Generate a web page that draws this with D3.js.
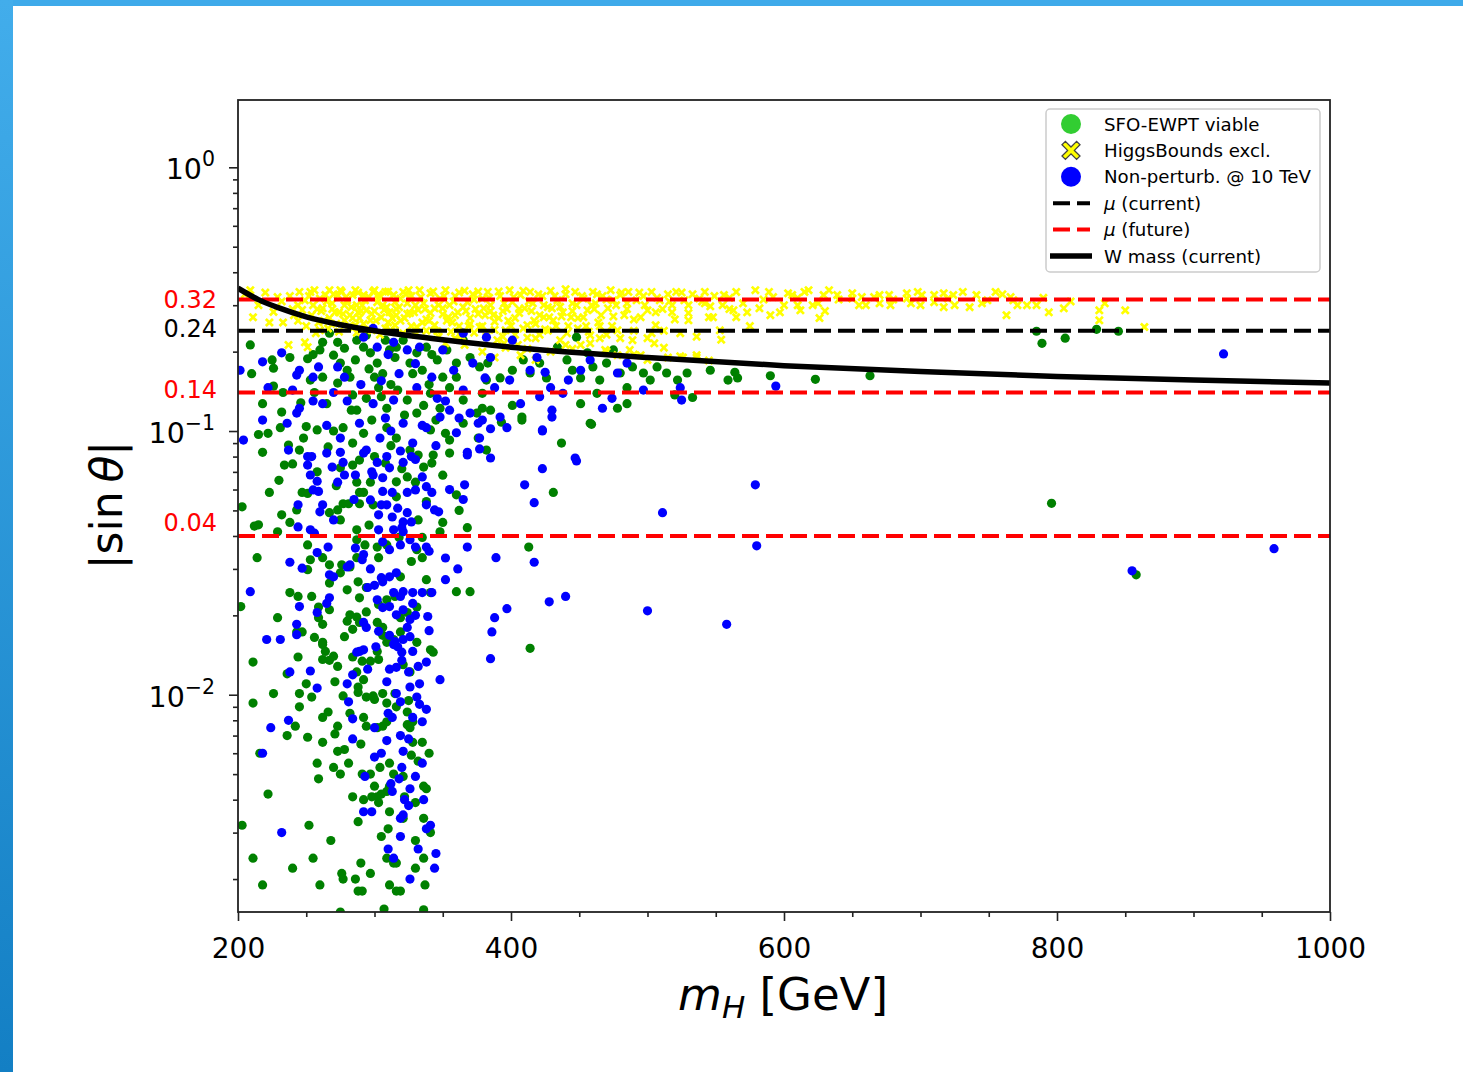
<!DOCTYPE html>
<html><head><meta charset="utf-8">
<script src="https://cdn.jsdelivr.net/npm/d3@7"></script>
<style>body{margin:0;background:#fff;overflow:hidden} svg{display:block}</style>
</head><body>
<svg id="chart" width="1463" height="1072"></svg>
<script>
// ---------- data (m_H [GeV], |sin theta|) ----------
const greenPts = [
[209,.212],[225,.186],[226,.173],[238,.190],[251,.188],[260,.203],[262,.217],[267,.235],[270,.194],[273,.217],[278,.206],[275,.181],[280,.170],[286,.186],[287,.221],[292,.208],[294,.231],[297,.198],[302,.181],[306,.165],[308,.221],[311,.203],[316,.208],[321,.221],[326,.181],[331,.198],[338,.208],[346,.186],[353,.203],[360,.181],[365,.221],[370,.190],[377,.175],[382,.156],
[218,.127],[233,.140],[253,.156],[256,.140],[265,.127],[273,.152],[284,.137],[287,.120],[294,.133],[303,.146],[309,.122],[317,.143],[324,.131],[331,.117],[341,.139],[348,.122],[355,.146],[365,.131],[375,.117],[379,.139],
[215,.097],[231,.103],[237,.0885],[248,.094],[258,.101],[266,.087],[277,.103],[284,.090],[292,.098],[309,.103],[316,.094],[326,.0847],[341,.101],[355,.0924],[365,.107],[376,.094],[218,.083],[245,.0847],
[383,.181],[392,.159],[401,.170],[409,.186],[414,.166],[421,.181],[426,.159],[434,.208],[441,.186],[445,.170],[448,.227],[451,.159],[456,.198],[460,.175],[465,.156],[470,.181],[475,.203],[480,.166],[485,.146],[489,.175],[497,.166],[502,.156],[507,.175],[514,.166],[522,.156],[529,.166],[533,.134],[546,.170],[559,.156],[566,.159],
[451,.127],[463,.139],[478,.122],[485,.127],[520,.137],[379,.122],[385,.120],[408,.113],[401,.125],[458,.107],[437,.090],[382,.0847],
[590,.162],[623,.157],[663,.162],[564,.167],[785,.239],[789,.215],[806,.225],[829,.243],[845,.239],
[393,.108],[408,.110],[459,.106],[431,.0585],[796,.0532],[413,.0363],[414,.0150],[858,.0285],
[234,.0743],[223,.0585],[247,.0585],[203,.0516],[232,.0481],[243,.0502],[238,.045],[212,.0436],[215,.0441],[229,.0415],[214,.0331],[251,.037],[253,.0325],[251,.0298],[262,.0331],[267,.0311],[276,.0311],
[267,.049],[273,.0502],[277,.053],[281,.053],[275,.046],[287,.0422],[289,.0585],[287,.064],[292,.0585],[289,.053],[275,.0725],[284,.0743],[289,.0776],[297,.064],[299,.0525],[287,.0387],[293,.037],[302,.0363],[303,.0331],[309,.037],[287,.0331],
[267,.0265],[275,.029],[282,.0305],[288,.0268],[294,.0255],[280,.025],[289,.0233],[267,.021],[259,.0215],[254,.0236],[244,.0236],[238,.0244],[259,.0196],[282,.0201],[287,.0197],[294,.0206],[303,.022],[309,.0229],[315,.0236],[302,.0188],[306,.018],[319,.0196],[324,.0205],[331,.0215],[338,.0273],[341,.0244],[331,.0355],[319,.028],[335,.0331],[327,.032],
[316,.0563],[316,.0642],[324,.067],[330,.064],[336,.073],[342,.0756],[338,.054],[348,.0415],[332,.046],[308,.0756],[332,.0811],[343,.0811],[355,.0825],[360,.0573],[368,.043],[360,.0246],[370,.0246],
[202,.0216],[229,.0196],[243,.0173],[247,.0173],[262,.0185],[262,.0158],[278,.0166],[284,.0177],[289,.0188],[306,.0168],[314,.0162],[319,.0173],[331,.0158],[341,.0148],[251,.058],
[211,.0133],[244,.0139],[262,.0155],[264,.0146],[262,.0136],[267,.0135],[273,.0128],[284,.0139],[291,.0134],[297,.0134],[302,.0146],[303,.0136],[309,.0158],[321,.013],[326,.0122],[343,.0145],[287,.0122],[292,.0114],[288,.0107],[288,.0102],[271,.0112],
[226,.0101],[211,.0093],[245,.0101],[254,.0098],[245,.009],[277,.0099],[294,.0098],[299,.0099],[306,.0101],[300,.0096],[309,.0093],[315,.0101],[316,.009],[324,.0086],[266,.0086],[262,.0082],[242,.0076],[236,.007],[251,.0069],[262,.0066],[273,.0076],[271,.0071],[292,.0082],[294,.0076],[302,.0075],[306,.0076],[309,.0079],[326,.0075],[324,.0077],[328,.0079],
[216,.006],[273,.0061],[278,.0062],[281,.0055],[270,.0053],[275,.005],[304,.0053],[311,.0055],[314,.005],[327,.0059],[332,.0056],[328,.0066],[335,.0066],[321,.0049],[291,.005],[297,.005],[259,.0048],[222,.0042],[284,.0041],[292,.004],[298,.0041],[302,.0041],[305,.0042],[309,.0043],[311,.0045],[303,.0039],[322,.0041],[336,.0045],[338,.0044],
[311,.0036],[321,.0034],[310,.0031],[203,.0032],[252,.0032],[336,.0034],[341,.003],[330,.0028],[330,.0022],[336,.0024],[309,.0024],[314,.0023],[316,.0023],[290,.0023],[211,.0024],[240,.0022],[255,.0024],[276,.0021],[277,.002],[286,.002],[288,.0018],[291,.0018],[297,.0021],[311,.0019],[316,.0018],[319,.0018],[337,.0019],[218,.0019],[260,.0019],[275,.0015],[307,.00154],[336,.00153],
[300,.160],[312,.150],[296,.172],[335,.170],[340,.150],[350,.160],[305,.135],[322,.115],[345,.110],[298,.110],[262,.160],[255,.195],[282,.160],[315,.190],[328,.165],[342,.195],[360,.160],[336,.125],[352,.098],[300,.080],[320,.072],[350,.068],[283,.120],[312,.088],[270,.100],[246,.128],[232,.118],[250,.104],[226,.148],[210,.165],[222,.098],[240,.075],[230,.065],[258,.070],[272,.062],[318,.0395],[296,.044],[335,.0395],[350,.045],[362,.050],[280,.019],[256,.0165],[270,.014],[236,.012],[250,.011],[325,.0095],[282,.0085],[290,.0065],[258,.0055],[300,.0045],[288,.0033],[268,.0028],[340,.0060],[305,.0029],[330,.0039]
];
const bluePts = [
[201.5,.170],[218,.183],[232,.198],[245,.170],[243,.163],[255,.160],[259,.175],[273,.175],[278,.160],[292,.227],[299,.245],[302,.208],[314,.217],[324,.203],[333,.208],[350,.203],[358,.170],[365,.235],[372,.181],
[222,.146],[240,.143],[245,.122],[262,.127],[299,.127],[314,.131],[331,.146],[346,.133],[355,.120],[365,.143],[370,.117],
[204,.0924],[218,.110],[236,.107],[243,.117],[265,.105],[275,.094],[289,.107],[294,.0847],[304,.094],[321,.107],[328,.090],[338,.103],[348,.113],[360,.0985],[368,.083],[376,.107],[251,.080],[275,.083],
[382,.227],[401,.221],[385,.190],[381,.159],[388,.146],[399,.156],[414,.170],[419,.190],[425,.167],[429,.146],[407,.127],[421,.135],[438,.139],[442,.156],[451,.170],[458,.186],[478,.166],[485,.181],[497,.143],[524,.146],[525,.131],[474,.133],[467,.122],[430,.120],[430,.113],[423,.101],[392,.113],[397,.103],[379,.110],[385,.102],[447,.079],
[594,.148],[922,.196],
[423,.100],[377,.094],[377,.0855],[385,.079],[423,.072],[410,.0625],[417,.0535],[448,.077],[511,.049],[579,.0625],[580,.0367],[389,.0331],[417,.0318],[397,.0212],[388,.0196],[386,.0173],[428,.0225],[440,.0236],[500,.0208],[558,.0185],[385,.0137],[855,.0295],[959,.0358],
[237,.0847],[254,.080],[251,.0743],[265,.0825],[269,.073],[277,.076],[292,.0825],[302,.076],[309,.080],[319,.084],[321,.076],[327,.080],[253,.0681],[258,.0645],[255,.0598],[273,.064],[278,.0681],[286,.0681],[299,.0681],[306,.0665],[311,.0725],[313,.0585],[324,.0585],[330,.0598],[338,.0615],[342,.0585],[306,.059],[305,.0525],[297,.0548],[309,.0525],[317,.051],[324,.049],[338,.0525],[344,.0502],[347,.0494],[303,.0481],[313,.0472],[321,.0452],[327,.0452],
[259,.059],[262,.0525],[260,.0494],[270,.046],[244,.0525],[244,.0433],[253,.0422],[256,.041],[303,.0422],[314,.0422],[321,.0415],[306,.038],[311,.0355],[319,.037],[326,.0387],[330,.0363],[338,.0363],[286,.036],[292,.034],[291,.0325],[297,.030],[282,.0311],[280,.0305],[267,.0285],[270,.028],[258,.0346],[238,.0318],[247,.0302],[266,.0363],
[305,.0278],[306,.0268],[311,.028],[316,.029],[314,.0244],[319,.0236],[321,.0246],[328,.0244],[335,.0244],[342,.0244],[328,.0222],[321,.021],[311,.0216],[306,.0214],[302,.0229],[295,.0255],[316,.0201],[326,.0193],[324,.018],[326,.0166],[321,.0162],[315,.0159],[311,.0168],[303,.0174],[292,.0188],[294,.018],[243,.0185],[243,.0169],[258,.0205],[265,.0222],[267,.0233],[245,.0216],[209,.0246],[221,.0162],[231,.0162],[352,.0273],[339,.0198],[361,.030],[368,.0363],[366,.0625],[368,.0811],
[287,.0145],[289,.0146],[292,.0148],[301,.0152],[314,.0155],[317,.0152],[320,.0145],[328,.0146],[238,.0122],[253,.0123],[284,.0119],[295,.0125],[311,.0125],[316,.0127],[325,.0122],[332,.0128],[338,.0133],[348,.0114],[309,.0112],[326,.0107],[333,.011],[258,.0106],[316,.0101],[319,.0094],[281,.0094],[331,.0098],[338,.0088],[313,.0082],[284,.0081],[328,.0082],[335,.0079],[237,.008],[224,.0075],
[284,.0068],[309,.0067],[319,.007],[321,.0061],[300,.0058],[320,.0053],[330,.0049],[318,.0048],[293,.0049],[326,.0044],[313,.0043],[336,.004],[325,.0038],[321,.0035],[319,.0034],[292,.0036],[298,.0036],[319,.0029],[341,.0032],[232,.003],[310,.0026],[314,.0024],[332,.0026],[345,.0025],[344,.0022],[326,.002],[218,.006],
[305,.155],[318,.165],[330,.180],[342,.160],[310,.195],[290,.150],[270,.140],[352,.130],[362,.112],[335,.105],[308,.112],[280,.130],[255,.130],[312,.100],[345,.088],[330,.078],[298,.070],[355,.060],[365,.055],[335,.067],[285,.055],[320,.043],[340,.035],[352,.033],[300,.026],[330,.020],[340,.0175],[320,.0135],[333,.0092],[310,.0085],[325,.0068],[335,.0055],[300,.0075],[312,.0046],[338,.0031],[322,.0040],[305,.0060],[280,.0110]
];
const yellowPts = [
[209,.342],[211,.270],[223,.258],[229,.322],[233,.258],[237,.212],[249,.217],[251,.208],[253,.337],[255,.300],[259,.258],[262,.292],[267,.342],[273,.328],[276,.337],[280,.313],[282,.275],[287,.300],[289,.268],[292,.328],[294,.287],[299,.337],[302,.308],[305,.270],[309,.295],[314,.328],[316,.275],[321,.337],[324,.305],
[245,.337],[249,.313],[256,.342],[260,.318],[264,.328],[269,.305],[271,.282],[275,.342],[278,.300],[284,.328],[286,.342],[288,.282],[293,.313],[297,.263],[300,.342],[304,.325],[308,.337],[311,.282],[315,.308],[319,.318],[322,.268],[325,.342],[286,.252],[298,.241],[315,.252],[278,.263],[267,.268],[260,.241],[308,.245],[244,.300],[238,.325],
[327,.325],[329,.282],[331,.248],[333,.342],[336,.305],[338,.265],[341,.333],[344,.292],[346,.239],[348,.318],[350,.277],[352,.342],[355,.300],[357,.258],[359,.325],[361,.282],[363,.231],[366,.340],[368,.308],[370,.268],[372,.330],[374,.290],[377,.248],[379,.318],[381,.275],
[383,.337],[385,.300],[388,.260],[390,.221],[392,.325],[394,.285],[396,.241],[399,.342],[401,.308],[403,.268],[405,.212],[407,.328],[410,.292],[412,.252],[414,.337],[416,.305],[418,.225],[421,.275],[423,.325],[425,.243],[427,.295],[429,.340],[431,.263],[434,.313],[436,.221],
[438,.282],[440,.330],[442,.250],[445,.305],[447,.337],[449,.268],[451,.212],[453,.318],[456,.287],[458,.231],[460,.337],[462,.305],[464,.258],[467,.325],[469,.203],[471,.292],[473,.342],[475,.313],[478,.241],[480,.328],[483,.275],[486,.337],[489,.221],[492,.313],[495,.194],
[497,.325],[500,.287],[503,.337],[506,.252],[509,.313],[512,.207],[515,.330],[518,.282],[521,.337],[524,.192],[527,.313],[530,.263],[533,.330],[536,.194],[538,.318],[542,.337],[546,.297],[549,.325],[553,.241],
[379,.200],[388,.190],[396,.207],[407,.194],[418,.186],[429,.200],[440,.212],[458,.215],[487,.203],[500,.186],[526,.190],[536,.190],[505,.215],[478,.194],[465,.225],[352,.215],[366,.212],[359,.225],
[556,.328],[565,.337],[563,.287],[565,.270],[573,.282],[579,.342],[582,.292],[589,.337],[592,.322],[597,.282],[603,.333],[606,.328],[612,.287],[615,.337],[618,.342],[621,.300],[626,.268],[629,.328],[633,.342],[639,.328],[650,.333],[657,.322],[660,.300],[666,.322],[670,.328],[677,.328],[678,.300],[690,.333],[693,.305],[698,.337],[701,.328],[710,.328],[717,.333],[717,.295],[724,.328],[725,.300],[731,.337],[736,.295],[741,.328],[749,.313],[755,.337],[763,.275],[766,.322],[768,.313],[771,.300],[778,.300],[785,.300],[794,.282],[805,.292],[831,.287],[831,.263],[850,.287],[864,.248],
[205,.330],[215,.300],[220,.335],[232,.310],[240,.290],[226,.283],
[252,.325],[258,.290],[265,.310],[270,.330],[274,.282],[279,.322],[283,.295],[288,.335],[291,.300],[296,.322],[300,.285],[303,.330],[306,.300],[310,.338],[313,.268],[318,.295],[323,.330],[326,.280],[330,.300],[334,.322],[337,.290],[340,.262],[343,.338],[347,.300],[351,.325],[354,.270],[358,.310],[362,.335],[365,.295],[369,.250],[373,.315],[376,.338],[380,.292],[384,.320],[387,.275],[391,.338],[395,.305],[398,.262],[402,.322],[406,.290],[409,.340],[413,.310],[417,.262],[420,.330],[424,.300],[428,.270],[432,.325],[436,.296],[440,.345],[444,.270],[448,.300],[452,.325],[455,.250],[459,.300],[463,.330],[466,.275],[470,.315],[474,.250],[477,.300],[481,.335],[485,.305],[490,.265],[494,.335],[498,.300],[503,.235],[507,.320],[511,.290],[516,.310],[520,.265],[525,.335],[530,.300],[540,.310],[545,.270],[555,.300],[560,.320],[570,.305],[585,.315],[600,.300],[610,.320],[625,.305],[640,.315],[655,.300],[680,.315],[700,.300],[720,.318],[745,.305],[760,.330],[790,.320],[810,.310],[835,.305],
[395,.215],[412,.205],[445,.205],[470,.200],[490,.195],[515,.190],[545,.185],
[241,.275],[244,.262],[247,.288],[250,.250],[254,.275],[257,.235],[261,.285],[263,.262],[266,.245],[269,.290],[272,.255],[274,.238],[277,.278],[281,.248],[284,.268],[287,.236],[290,.285],[292,.255],[295,.242],[298,.278],[301,.262],[304,.232],[307,.288],[310,.258],[312,.240],[316,.290],[319,.262],[321,.235],[324,.278],[327,.250],[330,.232],[332,.288],[335,.258],[338,.240],[341,.280],[344,.252],[347,.228],[350,.292],[353,.262],[356,.238],[359,.275],[362,.250],[364,.228],[367,.285],[370,.255],[373,.236],[376,.278],[379,.250],[382,.228],[385,.285],[388,.242],[391,.268],[394,.228],[397,.290],[400,.250],[403,.232],[406,.280],[409,.245],[412,.226],[415,.285],[418,.255],[421,.232],[424,.270],[427,.240],[430,.292],[433,.250],[437,.272],[441,.235],[445,.285],[449,.245],[453,.270],[457,.238],[461,.290],[465,.250],[470,.232],[475,.272],[480,.225],[485,.290],[490,.240],[495,.270],[500,.225],[506,.282],[512,.240],[518,.300],[524,.235],[530,.280],[536,.228],[542,.305],[548,.270],[554,.222],[560,.290],[575,.250],[590,.275],[610,.300],[630,.285],[650,.318],[670,.305],[690,.318],[710,.308]
];
// W-mass constraint curve
const wMassMass = [200,215,230,250,275,300,350,400,450,500,600,700,800,900,1000];
const wMassSin  = [.348,.315,.293,.271,.253,.240,.222,.208,.198,.190,.177,.168,.161,.156,.152];
// mu constraints
const muCurrent = [0.24];
const muFuture = [0.315, 0.14, 0.04];
const refLabels = ["0.32", "0.24", "0.14", "0.04"];
const refLabelAt = [0.316, 0.246, 0.144, 0.045];
const xTicks = [200, 400, 600, 800, 1000];
const yTickExp = [0, -1, -2];
const legendLabels = ["SFO-EWPT viable", "HiggsBounds excl.", "Non-perturb. @ 10 TeV", "\u03bc (current)", "\u03bc (future)", "W mass (current)"];

// ---------- drawing ----------
const svg = d3.select("#chart");
const FONT = "DejaVu Sans, sans-serif";
const L = 238, R = 1330, T = 100, B = 912;
const x = d3.scaleLinear().domain([200, 1000]).range([L, R]);
const y = d3.scaleLog().domain([0.0015, 1.8]).range([B, T]);

// page decoration (blue strips)
const defs = svg.append("defs");
const grad = defs.append("linearGradient").attr("id", "strip").attr("x1", 0).attr("y1", 0).attr("x2", 0).attr("y2", 1);
grad.append("stop").attr("offset", "0%").attr("stop-color", "#42adeb");
grad.append("stop").attr("offset", "100%").attr("stop-color", "#137fc4");
svg.append("rect").attr("x", 0).attr("y", 0).attr("width", 1463).attr("height", 6).attr("fill", "#3eaaea");
svg.append("rect").attr("x", 0).attr("y", 0).attr("width", 13).attr("height", 1072).attr("fill", "url(#strip)");

defs.append("clipPath").attr("id", "plotclip").append("rect")
  .attr("x", L).attr("y", T).attr("width", R - L).attr("height", B - T);

const plot = svg.append("g").attr("clip-path", "url(#plotclip)");
const R_DOT = 4.6;

plot.append("g").selectAll("circle").data(greenPts).join("circle")
  .attr("cx", d => x(d[0])).attr("cy", d => y(d[1])).attr("r", R_DOT).attr("fill", "#008000");

const xPath = (s, w) => `M${-s},${-s+w}L${-s+w},${-s}L0,${-w}L${s-w},${-s}L${s},${-s+w}L${w},0L${s},${s-w}L${s-w},${s}L0,${w}L${-s+w},${s}L${-s},${s-w}L${-w},0Z`;
plot.append("g").selectAll("path").data(yellowPts).join("path")
  .attr("transform", d => `translate(${x(d[0])},${y(d[1])})`)
  .attr("d", xPath(4.5, 1.9)).attr("fill", "#ffff00");

plot.append("g").selectAll("circle").data(bluePts).join("circle")
  .attr("cx", d => x(d[0])).attr("cy", d => y(d[1])).attr("r", R_DOT).attr("fill", "#0000ff");

// horizontal reference lines
const hline = v => `M${x(200)},${y(v)}H${x(1000)}`;
plot.append("g").selectAll("path").data(muFuture).join("path")
  .attr("d", hline).attr("stroke", "#ff0000").attr("stroke-width", 4)
  .attr("stroke-dasharray", "17,7").attr("fill", "none");
plot.append("g").selectAll("path").data(muCurrent).join("path")
  .attr("d", hline).attr("stroke", "#000").attr("stroke-width", 4)
  .attr("stroke-dasharray", "17,7").attr("fill", "none");

// W mass curve
const wLine = d3.line().x(d => x(d[0])).y(d => y(d[1])).curve(d3.curveMonotoneX);
plot.append("path").datum(wMassMass.map((m, i) => [m, wMassSin[i]]))
  .attr("d", wLine).attr("stroke", "#000").attr("stroke-width", 5.5).attr("fill", "none");

// frame
svg.append("rect").attr("x", L).attr("y", T).attr("width", R - L).attr("height", B - T)
  .attr("fill", "none").attr("stroke", "#222").attr("stroke-width", 1.8);

// x axis
const xMinor = d3.range(250, 1000, 50).filter(v => v % 200 !== 0);
const gx = svg.append("g").attr("transform", `translate(0,${B})`);
gx.call(d3.axisBottom(x).tickValues(xTicks).tickSize(9).tickSizeOuter(0).tickPadding(17).tickFormat(d3.format("d")));
gx.append("g").call(d3.axisBottom(x).tickValues(xMinor).tickSize(5).tickSizeOuter(0).tickFormat(""));
gx.selectAll(".domain").remove();
gx.selectAll("line").attr("stroke", "#222").attr("stroke-width", 1.6);
gx.selectAll("text").attr("font-family", FONT).attr("font-size", 28).attr("fill", "#000");

// y axis
const yMinor = [];
[-3, -2, -1, 0].forEach(e => { for (let k = 2; k <= 9; k++) { const v = k * Math.pow(10, e); if (v >= 0.0015 && v <= 1.8) yMinor.push(v); } });
const gy = svg.append("g").attr("transform", `translate(${L},0)`);
gy.call(d3.axisLeft(y).tickValues(yTickExp.map(e => Math.pow(10, e))).tickSize(9).tickSizeOuter(0).tickFormat(""));
gy.append("g").call(d3.axisLeft(y).tickValues(yMinor).tickSize(5).tickSizeOuter(0).tickFormat(""));
gy.selectAll(".domain").remove();
gy.selectAll("line").attr("stroke", "#222").attr("stroke-width", 1.6);

const yl = svg.append("g").selectAll("text").data(yTickExp).join("text")
  .attr("x", 215).attr("y", e => y(Math.pow(10, e)) + 12)
  .attr("text-anchor", "end").attr("font-family", FONT).attr("font-size", 28.5).attr("fill", "#000");
yl.append("tspan").text("10");
yl.append("tspan").attr("dy", -13).attr("font-size", 20.5).text(e => e === 0 ? "0" : "\u2212" + Math.abs(e));

// reference value labels
svg.append("g").selectAll("text").data(refLabels).join("text")
  .attr("x", 217).attr("y", (d, i) => y(refLabelAt[i]))
  .attr("dy", "0.36em").attr("text-anchor", "end")
  .attr("font-family", FONT).attr("font-size", 24)
  .attr("fill", d => d === "0.24" ? "#000" : "#ff0000").text(d => d);

// axis titles
const xt = svg.append("text").attr("x", 783).attr("y", 1010).attr("text-anchor", "middle")
  .attr("font-family", FONT).attr("font-size", 45).attr("fill", "#000");
xt.append("tspan").attr("font-style", "italic").text("m");
xt.append("tspan").attr("font-style", "italic").attr("font-size", 31).attr("dy", 8).text("H");
xt.append("tspan").attr("dy", -8).text(" [GeV]");

const yt = svg.append("text").attr("transform", "translate(122,505) rotate(-90)").attr("text-anchor", "middle")
  .attr("font-family", FONT).attr("font-size", 44).attr("fill", "#000");
yt.append("tspan").text("|sin\u2009");
yt.append("tspan").attr("font-style", "italic").text("\u03b8");
yt.append("tspan").text("|");

// legend
const lg = svg.append("g");
lg.append("rect").attr("x", 1046).attr("y", 109).attr("width", 274).attr("height", 163).attr("rx", 4)
  .attr("fill", "#fff").attr("fill-opacity", 0.85).attr("stroke", "#cccccc").attr("stroke-width", 1.5);
const rowY = i => 124 + i * 26.4;
lg.append("circle").attr("cx", 1071).attr("cy", rowY(0)).attr("r", 10).attr("fill", "#32cd32");
lg.append("path").attr("transform", `translate(1071,${rowY(1)})`).attr("d", xPath(9, 3.4))
  .attr("fill", "#ffff00").attr("stroke", "#444").attr("stroke-width", 1.3);
lg.append("circle").attr("cx", 1071).attr("cy", rowY(2)).attr("r", 10).attr("fill", "#0000ff");
lg.append("path").attr("d", `M1053,${rowY(3)}H1090`).attr("stroke", "#000").attr("stroke-width", 4).attr("stroke-dasharray", "17,7");
lg.append("path").attr("d", `M1053,${rowY(4)}H1090`).attr("stroke", "#ff0000").attr("stroke-width", 4).attr("stroke-dasharray", "17,7");
lg.append("path").attr("d", `M1050,${rowY(5)}H1092`).attr("stroke", "#000").attr("stroke-width", 5.5);
const lt = lg.selectAll("text.lab").data(legendLabels).join("text").attr("class", "lab")
  .attr("x", 1104).attr("y", (d, i) => rowY(i) + 6.5)
  .attr("font-family", FONT).attr("font-size", 18.2).attr("fill", "#000");
lt.each(function(d) {
  const t = d3.select(this);
  if (d.startsWith("\u03bc")) {
    t.append("tspan").attr("font-style", "italic").text("\u03bc");
    t.append("tspan").text(d.slice(1));
  } else t.text(d);
});
</script>
</body></html>
